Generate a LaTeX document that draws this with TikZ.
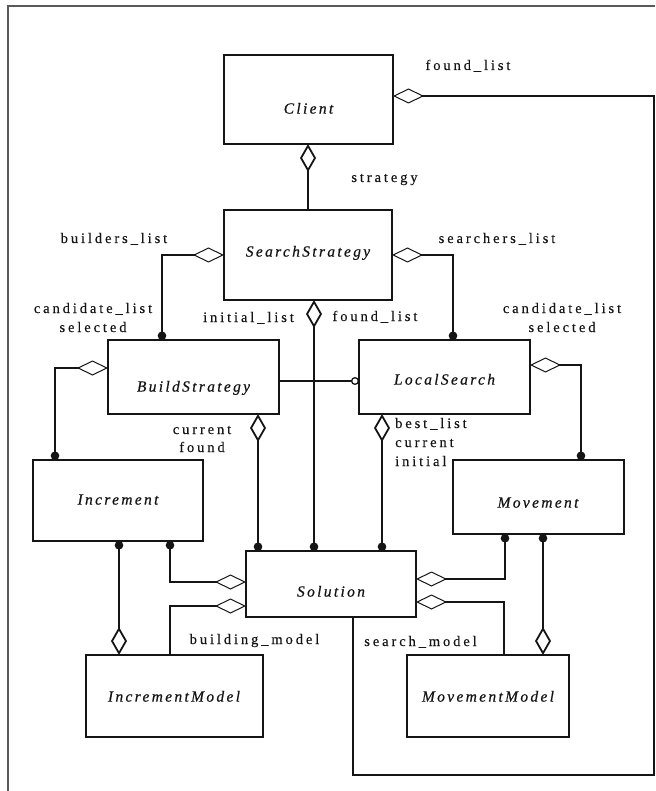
\documentclass[tikz,border=0pt]{standalone}
\usepackage{fontspec}
\setmainfont{Liberation Serif}
\newfontfamily\lblfont[LetterSpace=20,FakeBold=0.3]{Liberation Serif}
\newfontfamily\clsfont[LetterSpace=15,FakeBold=0.6]{Liberation Serif}
\usetikzlibrary{arrows.meta}
\definecolor{ink}{HTML}{151515}
\definecolor{framegray}{HTML}{5A5A5A}
\tikzset{
  HD/.tip={Diamond[open,length=31pt,width=15pt,line width=1pt]},
  VD/.tip={Diamond[open,length=28pt,width=16pt,line width=1.8pt]},
  DOT/.tip={Circle[length=8.5pt]},
  OC/.tip={Circle[open,length=8pt,line width=1.3pt]},
  cls/.style={draw=ink,line width=1.8pt,inner sep=0pt,outer sep=0pt,anchor=north west,fill=white},
  cname/.style={font=\clsfont\itshape\fontsize{15.5}{19}\selectfont,text=ink,inner sep=0pt,anchor=base},
  lbl/.style={font=\lblfont\fontsize{14.5}{19}\selectfont,text=ink,inner sep=0pt,anchor=base},
  conn/.style={draw=ink,line width=1.8pt},
  frameline/.style={draw=framegray,line width=1.5pt}
}
\begin{document}
\begin{tikzpicture}[x=1pt,y=-1pt]
\useasboundingbox (0,0) rectangle (655,791);
\draw[frameline] (8,791) -- (8,6) -- (655,6);

% classes
\node[cls,minimum width=169pt,minimum height=89pt] (client) at (224,55) {};
\node[cls,minimum width=168pt,minimum height=90pt] (ss) at (224,210) {};
\node[cls,minimum width=171pt,minimum height=74pt] (bs) at (108,340) {};
\node[cls,minimum width=171pt,minimum height=74pt] (ls) at (359,340) {};
\node[cls,minimum width=170pt,minimum height=81pt] (inc) at (33,460) {};
\node[cls,minimum width=171pt,minimum height=74pt] (mov) at (453,460) {};
\node[cls,minimum width=170pt,minimum height=66pt] (sol) at (246,551) {};
\node[cls,minimum width=177pt,minimum height=82pt] (incm) at (86,655) {};
\node[cls,minimum width=162pt,minimum height=82pt] (movm) at (407,655) {};

% class names
\node[cname] (client-n) at (308.5,113.6) {Client};
\node[cname] (ss-n) at (308,256.6) {SearchStrategy};
\node[cname] (bs-n) at (193.5,391.6) {BuildStrategy};
\node[cname] (ls-n) at (444.5,384.6) {LocalSearch};
\node[cname] (inc-n) at (118,504.6) {Increment};
\node[cname] (mov-n) at (538,507.6) {Movement};
\node[cname] (sol-n) at (331,596.6) {Solution};
\node[cname] (incm-n) at (174,701.6) {IncrementModel};
\node[cname] (movm-n) at (488,701.6) {MovementModel};

% helper points
\coordinate (loopc) at (654,775);
\coordinate (cb) at ([xshift=-0.5pt]client.south);
\coordinate (ssb) at ([xshift=6pt]ss.south);
\coordinate (bsb) at ([xshift=-21pt]bs.south east);
\coordinate (lsb) at ([xshift=23pt]ls.south west);
\coordinate (incb1) at ([xshift=86pt]inc.south west);
\coordinate (movb2) at ([xshift=90pt]mov.south west);

% associations
\draw[conn,VD-] (cb) -- (cb |- ss.north);
\draw[conn,HD-] ([yshift=3.5pt]client.east) -| (loopc) -| ([xshift=107pt]sol.south west);
\draw[conn,HD-DOT] (ss.west) -| ([xshift=54pt]bs.north west);
\draw[conn,HD-DOT] (ss.east) -| ([xshift=94pt]ls.north west);
\draw[conn,VD-DOT] (ssb) -- (ssb |- sol.north);
\draw[conn,-OC] ([yshift=-4pt]bs.east) -- ([yshift=-4pt]ls.west);
\draw[conn,HD-DOT] ([yshift=9pt]bs.west) -| ([xshift=22pt]inc.north west);
\draw[conn,VD-DOT] (bsb) -- (bsb |- sol.north);
\draw[conn,VD-DOT] (lsb) -- (lsb |- sol.north);
\draw[conn,HD-DOT] ([yshift=12pt]ls.east) -| ([xshift=128pt]mov.north west);
\draw[conn,DOT-VD] (incb1) -- (incb1 |- incm.north);
\draw[conn,DOT-HD] ([xshift=137pt]inc.south west) |- ([yshift=2pt]sol.west);
\draw[conn,HD-] ([yshift=-22pt]sol.west) -| ([xshift=84pt]incm.north west);
\draw[conn,HD-DOT] ([yshift=5pt]sol.east) -| ([xshift=52pt]mov.south west);
\draw[conn,HD-] ([yshift=-18pt]sol.east) -| ([xshift=97pt]movm.north west);
\draw[conn,DOT-VD] (movb2) -- (movb2 |- movm.north);

% role names
\node[lbl] (l-found1) at (468,70) {found\_list};
\node[lbl] (l-strat) at (384.5,182) {strategy};
\node[lbl] (l-build) at (114,243) {builders\_list};
\node[lbl] (l-search) at (497,243) {searchers\_list};
\node[lbl] (l-cand1) at (93,313) {candidate\_list};
\node[lbl] (l-sel1) at (93,332) {selected};
\node[lbl] (l-cand2) at (562,313) {candidate\_list};
\node[lbl] (l-sel2) at (562,332) {selected};
\node[lbl] (l-init) at (248.5,322) {initial\_list};
\node[lbl] (l-found2) at (375,321) {found\_list};
\node[lbl] (l-cur1) at (202,434) {current};
\node[lbl] (l-fnd) at (202,452) {found};
\node[lbl,anchor=base west] (l-best) at (395,428) {best\_list};
\node[lbl,anchor=base west] (l-cur2) at (395,447) {current};
\node[lbl,anchor=base west] (l-ini) at (395,466) {initial};
\node[lbl] (l-bmod) at (254.5,644) {building\_model};
\node[lbl] (l-smod) at (420.5,646) {search\_model};
\end{tikzpicture}
\end{document}
